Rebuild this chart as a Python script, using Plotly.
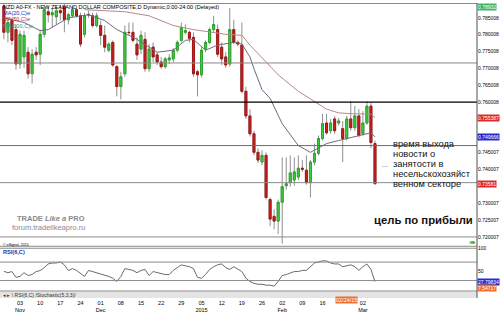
import plotly.graph_objects as go
import pandas as pd

# ---------------- data ----------------
dates = pd.bdate_range("2014-10-28", periods=93)

opens = [.7885, .7807, .7842, .7815, .7713, .7734, .7748, .7684, .7748, .7742,
         .7801, .7868, .7859, .7853, .7871, .7885, .7844, .7856, .7874, .7856,
         .7801, .7860, .7856, .7827, .7827, .7798, .7754, .7777, .7705, .7646,
         .7684, .7807, .7807, .7772, .7757, .7786, .7699, .7763, .7740, .7719,
         .7705, .7725, .7728, .7754, .7783, .7807, .7807, .7792, .7690, .7681,
         .7757, .7777, .7815, .7815, .7763, .7734, .7713, .7815, .7777, .7769,
         .7632, .7559, .7506, .7451, .7422, .7442, .7311, .7261, .7247, .7303,
         .7352, .7361, .7369, .7378, .7404, .7398, .7361, .7422, .7448, .7492,
         .7538, .7515, .7550, .7538, .7521, .7492, .7550, .7524, .7559, .7506,
         .7538, .7588, .7477]
highs = [.7894, .7853, .7850, .7830, .7812, .7812, .7763, .7757, .7763, .7815,
         .7888, .7885, .7879, .7885, .7888, .7894, .7865, .7885, .7879, .7865,
         .7865, .7871, .7865, .7865, .7842, .7827, .7777, .7783, .7710, .7690,
         .7827, .7836, .7836, .7792, .7812, .7807, .7772, .7777, .7748, .7734,
         .7734, .7742, .7760, .7783, .7836, .7830, .7812, .7807, .7696, .7763,
         .7783, .7821, .7856, .7830, .7777, .7748, .7879, .7844, .7783, .7836,
         .7646, .7579, .7515, .7463, .7457, .7451, .7317, .7282, .7311, .7436,
         .7436, .7442, .7436, .7442, .7428, .7442, .7428, .7477, .7501, .7565,
         .7565, .7550, .7559, .7553, .7544, .7559, .7603, .7588, .7579, .7573,
         .7603, .7597, .7486]
lows = [.7786, .7777, .7769, .7696, .7699, .7702, .7670, .7655, .7725, .7710,
        .7792, .7836, .7821, .7830, .7842, .7807, .7830, .7850, .7850, .7763,
        .7792, .7850, .7821, .7821, .7769, .7748, .7748, .7705, .7617, .7608,
        .7675, .7798, .7777, .7725, .7742, .7690, .7690, .7719, .7710, .7699,
        .7699, .7713, .7719, .7748, .7777, .7801, .7777, .7675, .7617, .7673,
        .7748, .7772, .7807, .7734, .7710, .7702, .7705, .7772, .7766, .7626,
        .7550, .7498, .7442, .7419, .7413, .7311, .7232, .7223, .7209, .7180,
        .7340, .7349, .7352, .7369, .7393, .7355, .7317, .7413, .7442, .7486,
        .7503, .7506, .7506, .7530, .7422, .7486, .7515, .7515, .7495, .7501,
        .7533, .7463, .7355]
closes = [.7807, .7836, .7783, .7713, .7801, .7798, .7684, .7742, .7740, .7801,
          .7874, .7859, .7865, .7871, .7865, .7844, .7859, .7874, .7856, .7772,
          .7856, .7859, .7827, .7856, .7798, .7763, .7772, .7710, .7646, .7675,
          .7807, .7806, .7783, .7740, .7798, .7699, .7757, .7734, .7719, .7705,
          .7728, .7731, .7754, .7777, .7821, .7812, .7789, .7684, .7681, .7754,
          .7777, .7815, .7830, .7742, .7728, .7710, .7815, .7777, .7772, .7632,
          .7559, .7506, .7451, .7428, .7442, .7317, .7253, .7247, .7303, .7349,
          .7358, .7390, .7393, .7404, .7401, .7361, .7422, .7448, .7492, .7536,
          .7509, .7538, .7515, .7544, .7492, .7550, .7524, .7559, .7501, .7538,
          .7588, .7480, .7358]

ma20_idx = [0, 3, 5, 9, 11, 16, 21, 25, 28, 31, 33, 38, 42, 45, 47, 50, 53, 57,
            59, 61, 62, 64, 66, 69, 73, 76, 78, 80, 83, 86, 88, 91, 92]
ma20_val = [.7850, .7842, .7836, .7812, .7815, .7850, .7859, .7842, .7815, .7798,
            .7786, .7748, .7754, .7783, .7786, .7754, .7769, .7777, .7772, .7734,
            .7699, .7637, .7611, .7536, .7471, .7451, .7463, .7477, .7486, .7495,
            .7501, .7509, .7497]
ma50_idx = [20, 24, 30, 36, 42, 47, 51, 55, 59, 61, 65, 68, 73, 78, 80, 83, 87, 91, 92]
ma50_val = [.7874, .7871, .7868, .7856, .7827, .7815, .7807, .7801, .7798, .7769,
            .7719, .7681, .7632, .7594, .7579, .7568, .7565, .7565, .7554]

rsi = [50, 47, 49.5, 37, 39, 47, 41, 43, 49.5, 51.6, 58, 66, 68, 68, 70.5, 64, 51.6,
       56, 52, 45, 39, 52, 49.5, 47, 45, 43, 39, 35, 28, 39, 56, 54, 52, 47, 52, 54,
       41, 49.5, 47, 45, 43, 43, 52, 58, 64, 62, 60, 56, 37, 35, 43, 54, 60, 64, 66,
       58, 54, 60, 54, 49.5, 35, 28, 24, 22, 22, 20, 20, 18, 28, 41, 43, 47, 49.5,
       49.5, 52, 52, 60, 68, 70.5, 72.6, 72.6, 68, 66, 66, 60, 62, 64, 60, 52, 60,
       66, 54, 27.8]

levels = [0.7716, 0.7600, 0.7471, 0.7361, 0.7200]
level_colors = ["#8a8a8a", "#000000", "#6a6a6a", "#8a8a8a", "#8a8a8a"]
rsi_levels = [70, 30]

price_ticks = [0.785, 0.780, 0.775, 0.770, 0.765, 0.760, 0.745, 0.740, 0.730, 0.725, 0.720]
price_ticktext = ["0.785008", "0.780008", "0.775008", "0.770008", "0.765008", "0.760008",
                  "0.745007", "0.740007", "0.730007", "0.725007", "0.720007"]

week_ticks = ["2014-11-03", "2014-11-10", "2014-11-17", "2014-11-24", "2014-12-01",
              "2014-12-08", "2014-12-15", "2014-12-22", "2014-12-29", "2015-01-05",
              "2015-01-12", "2015-01-19", "2015-01-26", "2015-02-02", "2015-02-09",
              "2015-02-16", "2015-03-02"]
week_text = ["03<br>Nov", "10", "17", "24", "01<br>Dec", "08", "15", "22", "29",
             "05<br>2015", "12", "19", "26", "02<br>Feb", "09", "16", "02<br>Mar"]
cursor_date = "2015-02-24"

value_labels = [  # (text, value, background)
    ("0.755387", 0.755387, "#e02a2a"),
    ("0.749666", 0.749666, "#2a2ad0"),
    ("0.73581", 0.73581, "#e02a2a"),
]
rsi_labels = [("27.79834", 27.79834, "#2a2ad0"), ("7.54717", 7.54717, "#f07030")]

# ---------------- layout helpers ----------------
PW, PH = 477, 293
def px(x):
    return x / PW
def py(y):
    return 1 - y / PH

FONT = "Liberation Sans, Arial, sans-serif"
xrange_ = ["2014-10-27 01:00", "2015-04-09 07:00"]
rb = [dict(bounds=["sat", "mon"])]

fig = go.Figure()

# wicks (grey)
fig.add_trace(go.Candlestick(
    x=dates, open=opens, high=highs, low=lows, close=closes,
    increasing=dict(line=dict(color="#909090", width=1), fillcolor="#909090"),
    decreasing=dict(line=dict(color="#909090", width=1), fillcolor="#909090"),
    whiskerwidth=0, hoverinfo="skip", showlegend=False, xaxis="x", yaxis="y"))
# bodies
body_hi = [max(o, c) for o, c in zip(opens, closes)]
body_lo = [min(o, c) for o, c in zip(opens, closes)]
fig.add_trace(go.Candlestick(
    x=dates, open=opens, high=body_hi, low=body_lo, close=closes,
    increasing=dict(line=dict(color="#2aa52a", width=1), fillcolor="#3fd23f"),
    decreasing=dict(line=dict(color="#a31515", width=1), fillcolor="#cc2020"),
    whiskerwidth=0, hoverinfo="skip", showlegend=False, xaxis="x", yaxis="y"))

fig.add_trace(go.Scatter(x=[dates[k] for k in ma20_idx], y=ma20_val, mode="lines",
                         line=dict(color="#6c6c80", width=1), showlegend=False,
                         hoverinfo="skip", xaxis="x", yaxis="y"))
fig.add_trace(go.Scatter(x=[dates[k] for k in ma50_idx], y=ma50_val, mode="lines",
                         line=dict(color="#b58a8a", width=1), showlegend=False,
                         hoverinfo="skip", xaxis="x", yaxis="y"))
fig.add_trace(go.Scatter(x=dates, y=rsi, mode="lines",
                         line=dict(color="#6a6a6a", width=1), showlegend=False,
                         hoverinfo="skip", xaxis="x2", yaxis="y2"))

shapes = []
for lv, col in zip(levels, level_colors):
    shapes.append(dict(type="line", xref="paper", x0=0, x1=1, yref="y", y0=lv, y1=lv,
                       line=dict(color=col, width=1.3 if col == "#000000" else 1)))
for lv in rsi_levels:
    shapes.append(dict(type="line", xref="paper", x0=0, x1=1, yref="y2", y0=lv, y1=lv,
                       line=dict(color="#8a8a8a", width=1)))
# panel borders
for yy in [0.5, 247.5, 249.5, 293]:
    shapes.append(dict(type="line", xref="paper", x0=0, x1=1, yref="paper",
                       y0=py(yy), y1=py(yy), line=dict(color="#8a8a8a", width=1)))
# tab bar
shapes.append(dict(type="rect", xref="paper", x0=0, x1=1, yref="paper",
                   y0=py(300), y1=py(293.5), fillcolor="#e4e4e4", line=dict(width=0),
                   layer="below"))
shapes.append(dict(type="line", xref="paper", x0=1, x1=1, yref="paper",
                   y0=py(300), y1=1, line=dict(color="#505050", width=1)))

ann = []
def text(x, y, t, size=5.5, color="#000", bold=False, anchor="left", **kw):
    if bold:
        t = "<b>" + t + "</b>"
    ann.append(dict(xref="paper", yref="paper", x=px(x), y=py(y), text=t,
                    showarrow=False, xanchor=anchor, yanchor="middle",
                    font=dict(family=FONT, size=size, color=color), **kw))

text(1, 4.5, "NZD A0-FX - NEW ZEALAND DOLLAR COMPOSITE,D Dynamic,0:00-24:00 (Delayed)", 5.6)
text(1, 10.5, "MA(20,C)e", 5.6, "#2b2bb0")
text(1, 16.5, "MA(50,C)e", 5.6, "#c03030")
text(1, 23, "MA(100,C)e", 5.6, "#2f9f8a")

text(15, 219, "TRADE <i>Like</i> <i>a</i> PRO", 7.5, "#8a8a8a", bold=True)
text(10, 228, "forum.tradelikeapro.ru", 7.5, "#8a8a8a")

for i, line in enumerate(["время выхода", "новости о", "занятости в",
                          "несельскохозяйст", "венном секторе"]):
    text(391, [143.5, 154, 164, 174, 184][i], line, 9.3, "#111")
text(380, 166, "—", 6, "#888")
text(372, 221, "цель по прибыли", 11.3, "#111", bold=True)

text(1, 246, "© eSignal, 2015", 3.6)
text(1, 253.5, "RSI(6,C)", 5.6, "#2030b0", bold=True)
text(1, 296.7, "◂ ▸ \\ RSI(6,C) /Stochastic(5,3,3)/", 5, "#333")
text(472, 244, "➠", 8, "#30b030", anchor="center")

# value labels on the right axis
ann.append(dict(xref="paper", yref="paper", x=1.001, y=py(4.5), text="0.78932",
                showarrow=False, xanchor="left", yanchor="middle", bgcolor="#3cb46a",
                borderpad=0, font=dict(family=FONT, size=5, color="#ffffff")))
for t, v, bg in value_labels:
    ann.append(dict(xref="paper", yref="y", x=1.001, y=v, text=t, showarrow=False,
                    xanchor="left", yanchor="middle", bgcolor=bg, borderpad=0,
                    font=dict(family=FONT, size=5, color="#ffffff")))
for t, v, bg in rsi_labels:
    ann.append(dict(xref="paper", yref="y2", x=1.001, y=max(v, 9.5) if bg != "#f07030" else 14,
                    text=t, showarrow=False, xanchor="left", yanchor="middle",
                    bgcolor=bg, borderpad=0, font=dict(family=FONT, size=5, color="#ffffff")))
# cursor date box
ann.append(dict(xref="x2", yref="paper", x=cursor_date, y=py(302.5), text="02/24/15",
                showarrow=False, xanchor="center", yanchor="middle", bgcolor="#f07030",
                borderpad=0, font=dict(family=FONT, size=5.5, color="#ffffff")))

fig.update_layout(
    width=500, height=313, margin=dict(l=0, r=23, t=0, b=20),
    paper_bgcolor="#ffffff", plot_bgcolor="#ffffff", showlegend=False,
    xaxis=dict(domain=[0, 1], anchor="y", range=xrange_, rangebreaks=rb,
               showticklabels=False, showgrid=False, zeroline=False, ticks="",
               rangeslider=dict(visible=False), fixedrange=True),
    xaxis2=dict(domain=[0, 1], anchor="y2", range=xrange_, rangebreaks=rb, matches="x",
                tickvals=week_ticks, ticktext=week_text, ticks="", showgrid=False,
                zeroline=False, showline=False, ticklabelstandoff=7,
                tickfont=dict(family=FONT, size=5.5, color="#000")),
    yaxis=dict(domain=[py(247.5), 1], anchor="x", side="right",
               range=[0.78939 - 247.5 / 3430, 0.78939], tickvals=price_ticks,
               ticktext=price_ticktext, ticks="", showgrid=False, zeroline=False,
               showline=False, tickfont=dict(family=FONT, size=5, color="#000")),
    yaxis2=dict(domain=[0, py(249.5)], anchor="x2", side="right", range=[7.4, 100],
                tickvals=[100, 50], ticktext=["100", "50"], ticks="", showgrid=False,
                zeroline=False, showline=False,
                tickfont=dict(family=FONT, size=5, color="#000")),
    shapes=shapes, annotations=ann,
)

fig.write_html("out.html")
